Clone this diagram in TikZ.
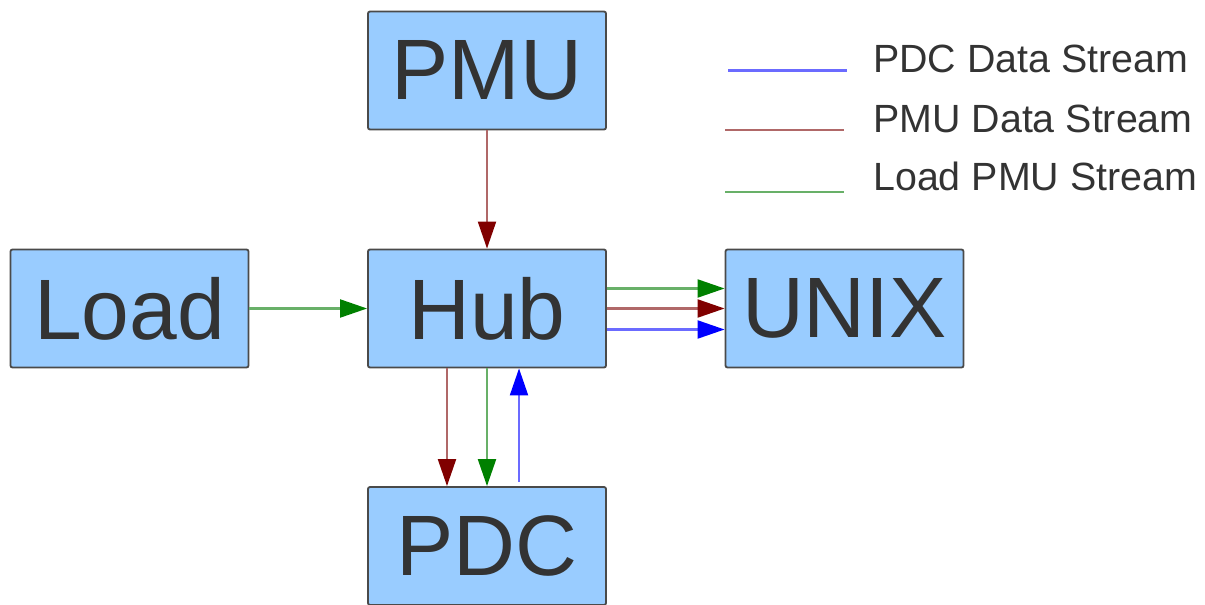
\documentclass[tikz,border=0pt]{standalone}
\usepackage{fontspec}
\setmainfont{Liberation Sans}
\usetikzlibrary{arrows.meta}

\definecolor{boxfill}{HTML}{99CCFF}
\definecolor{boxedge}{HTML}{4A4A4A}
\definecolor{textgray}{HTML}{333333}
\definecolor{pdccol}{HTML}{6B6BFF}
\definecolor{pdchead}{HTML}{0000FF}
\definecolor{pmucol}{HTML}{B06868}
\definecolor{pmuhead}{HTML}{800000}
\definecolor{loadcol}{HTML}{68B068}
\definecolor{loadhead}{HTML}{008000}

\begin{document}
\begin{tikzpicture}[x=0.025cm,y=-0.025cm,
    box/.style={rectangle,draw=boxedge,fill=boxfill,line width=1.3pt,rounded corners=1.5pt,
                minimum width=5.95cm,minimum height=2.95cm,inner sep=0pt,
                text=textgray,font=\fontsize{61}{66}\selectfont},
    legtext/.style={anchor=base west,inner sep=0pt,text=textgray,font=\fontsize{28}{32}\selectfont},
    pdcline/.style={draw=pdccol,line width=1.5pt,-{Triangle[length=6.75mm,width=4.5mm,color=pdchead]}},
    pmuline/.style={draw=pmucol,line width=1.5pt,-{Triangle[length=6.75mm,width=4.5mm,color=pmuhead]}},
    loadline/.style={draw=loadcol,line width=1.5pt,-{Triangle[length=6.75mm,width=4.5mm,color=loadhead]}}]
    \useasboundingbox (0,0) rectangle (1205,605);
    \begin{scope}[every node/.style={box}]
        \node (pmu) at (487,70.5) {PMU};
        \node (load) at (129.5,308.5) {Load};
        \node (hub) at (487,308.5) {Hub};
        \node (unix) at (844.5,308.5) {UNIX};
        \node (pdc) at (487,546) {PDC};
    \end{scope}
    \draw[pmuline] (pmu) -- (hub);
    \draw[loadline] (load) -- (hub);
    \draw[loadline] ([yshift=0.5cm]hub.east) -- ([yshift=0.5cm]unix.west);
    \draw[pmuline] (hub) -- (unix);
    \draw[pdcline] ([yshift=-0.525cm]hub.east) -- ([yshift=-0.525cm]unix.west);
    \draw[pmuline] ([xshift=-1cm]hub.south) -- ([xshift=-1cm]pdc.north);
    \draw[loadline] (hub) -- (pdc);
    \draw[pdcline] ([xshift=0.8cm,yshift=0.1cm]pdc.north) -- ([xshift=0.8cm]hub.south);
    % legend
    \node[legtext] (legpdc) at (873,72) {PDC Data Stream};
    \node[legtext] (legpmu) at (873,132) {PMU Data Stream};
    \node[legtext] (legload) at (873,190) {Load PMU Stream};
    \draw[draw=pdccol,line width=1.5pt] (728,70.5) -- (847,70.5);
    \draw[draw=pmucol,line width=1.5pt] (725,130) -- (844,130);
    \draw[draw=loadcol,line width=1.5pt] (725,192) -- (844,192);
\end{tikzpicture}
\end{document}
